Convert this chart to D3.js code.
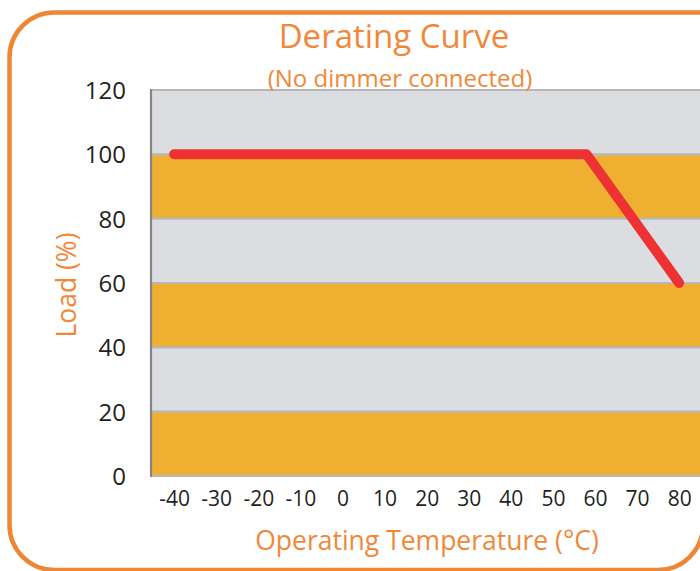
<!DOCTYPE html>
<html>
<head>
<meta charset="utf-8">
<script src="https://cdn.jsdelivr.net/npm/d3@7"></script>
<style>
  html, body { margin: 0; padding: 0; background: #fff; }
  svg { display: block; }
</style>
</head>
<body>
<svg id="chart" width="700" height="571"></svg>
<script>
// ---- data ----
const temperatures = [-40, 58, 80];
const loads = [100, 100, 60];
const xTicks = [-40, -30, -20, -10, 0, 10, 20, 30, 40, 50, 60, 70, 80];
const yTicks = [0, 20, 40, 60, 80, 100, 120];
const bandStarts = [0, 40, 80]; // orange bands: 0-20, 40-60, 80-100

const svg = d3.select("#chart");
const orange = "#f0883a";
const xMin = -45.5, xMax = 87;

const x = d3.scaleLinear().domain([xMin, xMax]).range([151, 708.6]);
const y = d3.scaleLinear().domain([0, 120]).range([476, 90]);

// border
svg.append("path")
  .attr("d", "M760,12.5 L54.5,12.5 A45,45 0 0 0 9.5,57.5 L9.5,525 A45,45 0 0 0 54.5,570 L658,570 A45,45 0 0 0 703,525 L703,12.5")
  .attr("fill", "none")
  .attr("stroke", "#ef8633")
  .attr("stroke-width", 4.5);

// plot background
svg.append("rect")
  .attr("x", x(xMin)).attr("y", y(120))
  .attr("width", x(xMax) - x(xMin)).attr("height", y(0) - y(120))
  .attr("fill", "#dcdde0");

svg.selectAll("rect.band").data(bandStarts).join("rect")
  .attr("class", "band")
  .attr("x", x(xMin)).attr("y", d => y(d + 20))
  .attr("width", x(xMax) - x(xMin)).attr("height", d => y(d) - y(d + 20))
  .attr("fill", "#efb032");

// gridlines
svg.selectAll("line.grid").data(yTicks).join("line")
  .attr("class", "grid")
  .attr("x1", x(xMin)).attr("x2", x(xMax))
  .attr("y1", d => y(d)).attr("y2", d => y(d))
  .attr("stroke", "#b7b7b9")
  .attr("stroke-width", 2.2);

// left axis line
svg.append("line")
  .attr("x1", x(xMin)).attr("x2", x(xMin))
  .attr("y1", y(120) - 1).attr("y2", y(0) + 1)
  .attr("stroke", "#86868a")
  .attr("stroke-width", 2.2);

// y axis labels
const yAxis = d3.axisLeft(y).tickValues(yTicks).tickSize(0).tickPadding(0);
const gy = svg.append("g").attr("transform", "translate(126,0)").call(yAxis);
gy.select(".domain").remove();
gy.selectAll("text")
  .attr("font-family", "Open Sans, sans-serif")
  .attr("font-size", 24)
  .attr("fill", "#231f20")
  .attr("dy", "0.36em");

// x axis labels
const xAxis = d3.axisBottom(x).tickValues(xTicks).tickSize(0).tickPadding(0).tickFormat(d => String(d));
const gx = svg.append("g").attr("transform", "translate(0,491)").call(xAxis);
gx.select(".domain").remove();
gx.selectAll("text")
  .attr("font-family", "Open Sans, sans-serif")
  .attr("font-size", 21)
  .attr("fill", "#231f20")
  .attr("dy", "0.71em");

// line
const line = d3.line().x((d, i) => x(temperatures[i])).y(d => y(d));
svg.append("path")
  .datum(loads)
  .attr("d", line)
  .attr("fill", "none")
  .attr("stroke", "#ee3233")
  .attr("stroke-width", 10)
  .attr("stroke-linecap", "round")
  .attr("stroke-linejoin", "round");

// titles
svg.append("text")
  .attr("x", 394).attr("y", 48)
  .attr("text-anchor", "middle")
  .attr("font-family", "Open Sans, sans-serif")
  .attr("font-size", 33)
  .attr("fill", orange)
  .text("Derating Curve");

svg.append("text")
  .attr("x", 400).attr("y", 86.5)
  .attr("text-anchor", "middle")
  .attr("font-family", "Open Sans, sans-serif")
  .attr("font-size", 24)
  .attr("fill", orange)
  .text("(No dimmer connected)");

svg.append("text")
  .attr("x", 427).attr("y", 550)
  .attr("text-anchor", "middle")
  .attr("font-family", "Open Sans, sans-serif")
  .attr("font-size", 26.5)
  .attr("fill", orange)
  .text("Operating Temperature (°C)");

svg.append("text")
  .attr("transform", "translate(76,285) rotate(-90)")
  .attr("text-anchor", "middle")
  .attr("font-family", "Open Sans, sans-serif")
  .attr("font-size", 26.5)
  .attr("fill", orange)
  .text("Load (%)");
</script>
</body>
</html>
